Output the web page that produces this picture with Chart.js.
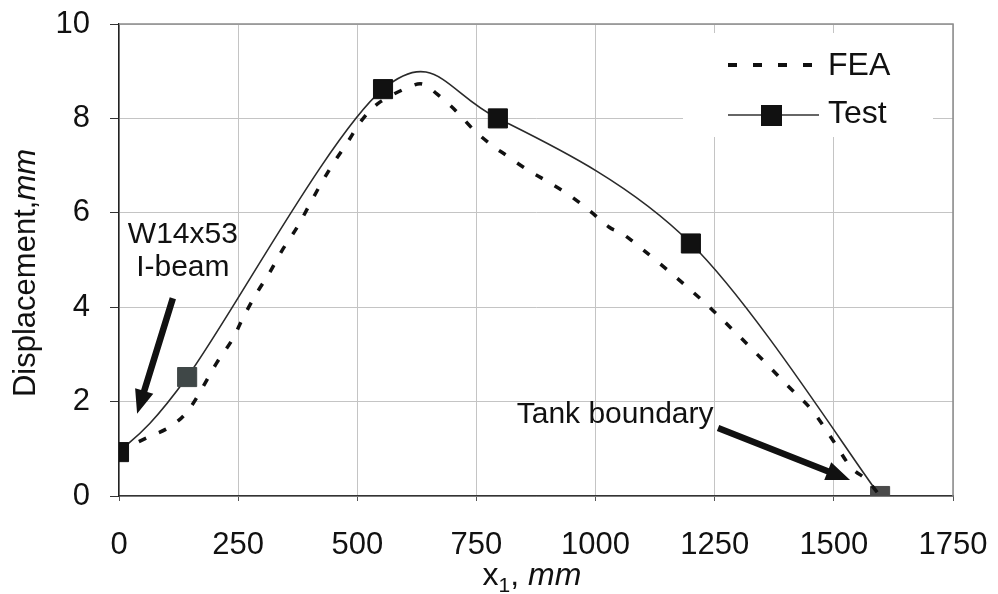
<!DOCTYPE html>
<html><head><meta charset="utf-8">
<script src="https://cdn.jsdelivr.net/npm/chart.js@4.4.1/dist/chart.umd.min.js"></script>
<style>html,body{margin:0;padding:0;background:#fff}#wrap{width:998px;height:594px;position:relative}</style>
</head><body><div id="wrap"><canvas id="c" width="998" height="594"></canvas></div>
<script>
// ---- data ----
const testX = [0, 143, 554, 795, 1200, 1597];
const testY = [0.93, 2.52, 8.62, 8.0, 5.35, 0.0];
const feaX = [0, 58, 109, 150, 205, 237, 261, 289, 317, 342, 373, 397, 423, 450, 480, 510, 548, 612, 640, 667, 705, 745, 785, 808, 854, 898, 944, 988, 1028, 1072, 1200, 1300, 1402, 1454, 1500, 1535, 1569, 1597];
const feaY = [0.95, 1.23, 1.48, 1.88, 2.82, 3.3, 3.79, 4.3, 4.75, 5.2, 5.68, 6.12, 6.6, 7.05, 7.5, 7.97, 8.35, 8.68, 8.72, 8.52, 8.18, 7.75, 7.41, 7.25, 6.93, 6.67, 6.38, 6.04, 5.7, 5.44, 4.36, 3.4, 2.35, 1.82, 1.15, 0.62, 0.34, 0.0];
const xTickLabels = ['0','250','500','750','1000','1250','1500','1750'];
const yTickLabels = ['0','2','4','6','8','10'];
const seriesNames = ['FEA', 'Test'];
const testPointColors = ['#111111', '#3f4747', '#111111', '#111111', '#111111', '#4a4a4a'];
// annotations in data coordinates
const notes = [
  {text: 'W14x53', x: 134, y: 5.53},
  {text: 'I-beam', x: 134, y: 4.83},
  {text: 'Tank boundary', x: 1041, y: 1.72}
];
const arrows = [
  {x0: 113, y0: 4.19, x1: 38, y1: 1.74},
  {x0: 1257, y0: 1.44, x1: 1534, y1: 0.34}
];

const FONT = '"Liberation Sans", Arial, sans-serif';

function drawArrow(ctx, x0, y0, x1, y1, shaftW, headLen, headW) {
  const dx = x1 - x0, dy = y1 - y0, L = Math.hypot(dx, dy);
  const ux = dx / L, uy = dy / L, nx = -uy, ny = ux;
  const bx = x1 - ux * headLen, by = y1 - uy * headLen;
  ctx.beginPath();
  ctx.moveTo(x0 + nx * shaftW / 2, y0 + ny * shaftW / 2);
  ctx.lineTo(bx + nx * shaftW / 2, by + ny * shaftW / 2);
  ctx.lineTo(bx + nx * headW / 2, by + ny * headW / 2);
  ctx.lineTo(x1, y1);
  ctx.lineTo(bx - nx * headW / 2, by - ny * headW / 2);
  ctx.lineTo(bx - nx * shaftW / 2, by - ny * shaftW / 2);
  ctx.lineTo(x0 - nx * shaftW / 2, y0 - ny * shaftW / 2);
  ctx.closePath();
  ctx.fill();
}

// Excel-style (uniform Catmull-Rom) smoothing of the library's own line points
const smooth = {
  id: 'smooth',
  beforeDatasetDraw(chart, args) {
    const meta = args.meta;
    const line = meta.dataset;
    if (!line || !line.updateControlPoints) return;
    line.updateControlPoints(chart.chartArea, 'x');
    const pts = meta.data, n = pts.length;
    for (let i = 0; i < n; i++) {
      const p = pts[i], a = pts[Math.max(i - 1, 0)], b = pts[Math.min(i + 1, n - 1)];
      const tx = (b.x - a.x) / 6, ty = (b.y - a.y) / 6;
      p.cp1x = p.x - tx; p.cp1y = p.y - ty;
      p.cp2x = p.x + tx; p.cp2y = p.y + ty;
    }
  }
};

const decor = {
  id: 'decor',
  beforeDatasetsDraw(chart) {
    const {ctx, chartArea: a} = chart;
    ctx.save();
    ctx.strokeStyle = '#8c8c8c';
    ctx.lineWidth = 1.5;
    ctx.beginPath();
    ctx.moveTo(a.left, a.top); ctx.lineTo(a.right, a.top); ctx.lineTo(a.right, a.bottom);
    ctx.stroke();
    // legend box (white, covers grid)
    ctx.fillStyle = '#ffffff';
    ctx.fillRect(683, 33, 250, 104);
    ctx.restore();
  },
  afterDraw(chart) {
    const {ctx, scales: {x, y}} = chart;
    ctx.save();
    ctx.fillStyle = '#111';
    // annotations
    ctx.font = '30px ' + FONT;
    ctx.textAlign = 'center';
    ctx.textBaseline = 'middle';
    notes.forEach(n => ctx.fillText(n.text, x.getPixelForValue(n.x), y.getPixelForValue(n.y)));
    arrows.forEach(r => drawArrow(ctx, x.getPixelForValue(r.x0), y.getPixelForValue(r.y0),
      x.getPixelForValue(r.x1), y.getPixelForValue(r.y1), 6.5, 24, 19));
    // legend
    ctx.strokeStyle = '#111';
    ctx.lineWidth = 4;
    ctx.setLineDash([9, 16]);
    ctx.beginPath(); ctx.moveTo(728, 65); ctx.lineTo(815, 65); ctx.stroke();
    ctx.setLineDash([]);
    ctx.strokeStyle = '#333';
    ctx.lineWidth = 1.5;
    ctx.beginPath(); ctx.moveTo(728, 115); ctx.lineTo(819, 115); ctx.stroke();
    ctx.fillStyle = '#111';
    ctx.fillRect(761, 105, 21, 21);
    ctx.font = '32px ' + FONT;
    ctx.textAlign = 'left';
    ctx.textBaseline = 'middle';
    ctx.fillText(seriesNames[0], 828, 66);
    ctx.fillText(seriesNames[1], 828, 114);
    // y-axis title
    ctx.save();
    ctx.translate(35, 273);
    ctx.rotate(-Math.PI / 2);
    ctx.textAlign = 'left';
    ctx.textBaseline = 'alphabetic';
    const fN = '31px ' + FONT, fI = 'italic 31px ' + FONT;
    ctx.font = fN; const w1 = ctx.measureText('Displacement,').width;
    ctx.font = fI; const w2 = ctx.measureText('mm').width;
    let sx = -(w1 + w2) / 2;
    ctx.font = fN; ctx.fillText('Displacement,', sx, 0);
    ctx.font = fI; ctx.fillText('mm', sx + w1, 0);
    ctx.restore();
    // x-axis title
    const parts = [
      {t: 'x', f: '32px ' + FONT, dy: 0},
      {t: '1', f: '21px ' + FONT, dy: 7},
      {t: ', ', f: '32px ' + FONT, dy: 0},
      {t: 'mm', f: 'italic 32px ' + FONT, dy: 0}
    ];
    let tw = 0;
    parts.forEach(p => { ctx.font = p.f; p.w = ctx.measureText(p.t).width; tw += p.w; });
    let px = 532 - tw / 2;
    ctx.textAlign = 'left';
    ctx.textBaseline = 'alphabetic';
    parts.forEach(p => { ctx.font = p.f; ctx.fillText(p.t, px, 585 + p.dy); px += p.w; });
    ctx.restore();
  }
};

function zeroPad(s) { s.paddingTop = 0; s.paddingBottom = 0; s.paddingLeft = 0; s.paddingRight = 0; }

new Chart(document.getElementById('c'), {
  type: 'line',
  data: {
    datasets: [
      {
        label: seriesNames[0],
        data: feaX.map((v, i) => ({x: v, y: feaY[i]})),
        borderColor: '#111',
        borderWidth: 3.5,
        borderDash: [8, 14],
        pointRadius: 0,
        tension: 0.4,
        fill: false
      },
      {
        label: seriesNames[1],
        data: testX.map((v, i) => ({x: v, y: testY[i]})),
        borderColor: '#2a2a2a',
        borderWidth: 1.6,
        tension: 0.4,
        pointStyle: 'rect',
        pointRadius: 13.5,
        pointBorderWidth: 1,
        pointBackgroundColor: testPointColors,
        pointBorderColor: testPointColors,
        fill: false
      }
    ]
  },
  options: {
    responsive: false,
    animation: false,
    devicePixelRatio: 1,
    layout: {padding: {left: 0, top: 24, right: 45, bottom: 0}},
    plugins: {legend: {display: false}, tooltip: {enabled: false}},
    scales: {
      x: {
        type: 'linear', min: 0, max: 1750,
        afterFit(s) { s.height = 98; zeroPad(s); },
        afterBuildTicks(s) { s.ticks = xTickLabels.map(v => ({value: Number(v)})); },
        ticks: {stepSize: 250, color: '#111', font: {family: FONT, size: 31}, padding: 26,
          callback: (v) => String(v), maxRotation: 0, autoSkip: false},
        grid: {color: '#c4c4c4', lineWidth: 1, tickLength: 5, tickColor: '#555'},
        border: {color: '#333', width: 1.5}
      },
      y: {
        type: 'linear', min: 0, max: 10,
        afterFit(s) { s.width = 119; zeroPad(s); },
        afterBuildTicks(s) { s.ticks = yTickLabels.map(v => ({value: Number(v)})); },
        ticks: {stepSize: 2, color: '#111', font: {family: FONT, size: 31}, padding: 20,
          callback: (v) => String(v)},
        grid: {color: '#c4c4c4', lineWidth: 1, tickLength: 9, tickColor: '#333'},
        border: {color: '#222', width: 1.5}
      }
    }
  },
  plugins: [smooth, decor]
});
</script>
</body></html>
